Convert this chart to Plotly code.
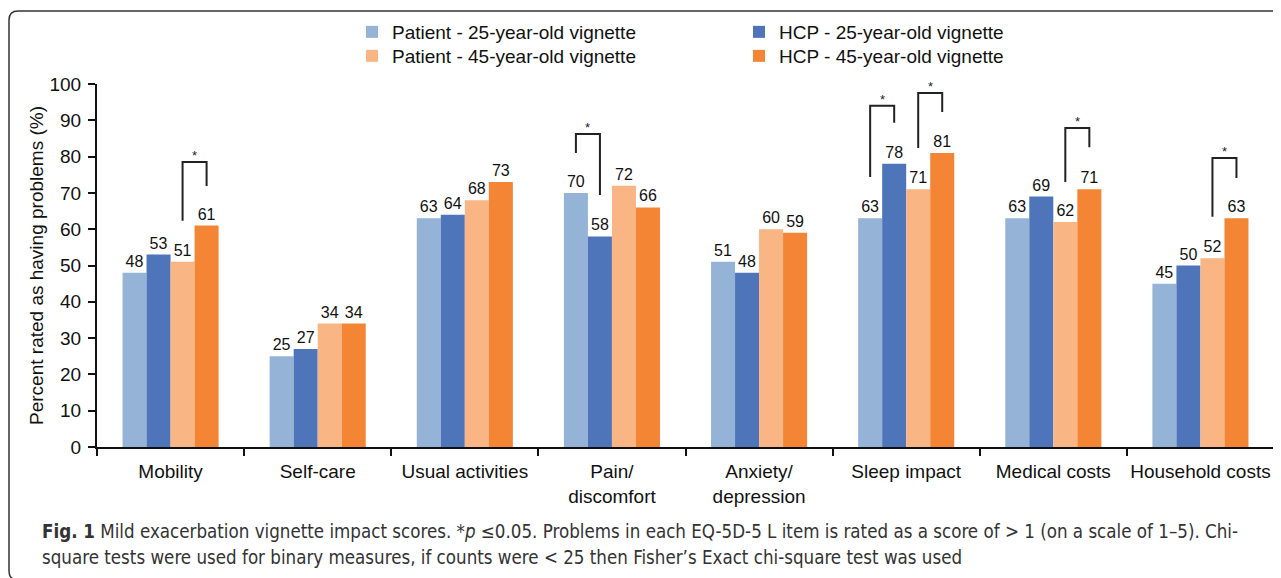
import plotly.graph_objects as go

categories = ["Mobility", "Self-care", "Usual activities", "Pain/<br>discomfort",
              "Anxiety/<br>depression", "Sleep impact", "Medical costs", "Household costs"]
series_names = ["Patient - 25-year-old vignette", "HCP - 25-year-old vignette",
                "Patient - 45-year-old vignette", "HCP - 45-year-old vignette"]
patient_25 = [48, 25, 63, 70, 51, 63, 63, 45]
hcp_25 = [53, 27, 64, 58, 48, 78, 69, 50]
patient_45 = [51, 34, 68, 72, 60, 71, 62, 52]
hcp_45 = [61, 34, 73, 66, 59, 81, 71, 63]
colors = ["#95B3D7", "#4E74BA", "#FAB584", "#F38535"]

# significance brackets: (category index, bar a, bar b, left-leg end, right-leg end, top)
brackets = [
    (0, 2, 3, 62.3, 71.9, 78.5),
    (3, 0, 1, 81.0, 69.4, 86.2),
    (5, 0, 1, 74.4, 89.3, 94.0),
    (5, 2, 3, 82.4, 92.3, 97.5),
    (6, 2, 3, 73.0, 82.6, 87.9),
    (7, 2, 3, 63.4, 74.1, 79.6),
]

FONT = "Liberation Sans, Arial, sans-serif"
OFF = 8  # page body margin
W, H = 1281 - OFF, 578 - OFF
ML, MT = 97 - OFF, 84 - OFF
MR = W - (1274 - OFF)
MB = H - (447 - OFF)
PW, PH = W - ML - MR, H - MT - MB
BARGAP = 0.347

def px_x(p):  # viewport pixel -> paper
    return (p - OFF - ML) / PW

def px_y(p):
    return (H - MB - (p - OFF)) / PH

# legend entry placement (viewport px: left edge, top edge)
legend_ids = ["legend", "legend2", "legend3", "legend4"]
legend_pos = [(352, 13), (739, 13), (352, 37), (739, 37)]

fig = go.Figure()
all_vals = [patient_25, hcp_25, patient_45, hcp_45]
for name, vals, col, lg in zip(series_names, all_vals, colors, legend_ids):
    fig.add_trace(go.Bar(
        x=categories, y=vals, name=name, marker=dict(color=col, line=dict(width=0)),
        text=[str(v) for v in vals], textposition="outside", constraintext="none",
        textfont=dict(family=FONT, size=16, color="#111"), cliponaxis=False,
        legend=lg, showlegend=True,
    ))

bw = (1 - BARGAP) / 4
def bar_center(ci, bi):
    return ci - (1 - BARGAP) / 2 + bw * (bi + 0.5)

shapes = []
annotations = []
for ci, a, b, ya, yb, top in brackets:
    xa, xb = bar_center(ci, a), bar_center(ci, b)
    shapes.append(dict(type="path", xref="x", yref="y",
                       path=f"M {xa} {ya} L {xa} {top} L {xb} {top} L {xb} {yb}",
                       line=dict(color="#222", width=2)))
    annotations.append(dict(x=(xa + xb) / 2, y=top, xref="x", yref="y", text="*",
                            showarrow=False, yanchor="bottom", yshift=-3,
                            font=dict(family=FONT, size=13, color="#222")))

# outer rounded frame
r = 9
x0, y0, x1, y1 = 9, 11, 1300, 580
def P(x, y):
    return f"{px_x(x)},{px_y(y)}"
frame = (f"M {P(x1, y0)} L {P(x0 + r, y0)} Q {P(x0, y0)} {P(x0, y0 + r)} "
         f"L {P(x0, y1 - r)} Q {P(x0, y1)} {P(x0 + r, y1)} L {P(x1, y1)}")
shapes.append(dict(type="path", xref="paper", yref="paper", path=frame,
                   line=dict(color="#333", width=1.5)))

CAP = "Liberation Sans Narrow, DejaVu Sans Condensed, sans-serif"
annotations.append(dict(xref="paper", yref="paper", x=px_x(40), y=px_y(531),
    xanchor="left", yanchor="middle", showarrow=False, align="left",
    text="<b>Fig. 1</b> Mild exacerbation vignette impact scores. *<i>p</i> \u22640.05. Problems in each EQ-5D-5 L item is rated as a score of &gt; 1 (on a scale of 1\u20135). Chi-",
    font=dict(family=CAP, size=18.6, color="#333")))
annotations.append(dict(xref="paper", yref="paper", x=px_x(40), y=px_y(557),
    xanchor="left", yanchor="middle", showarrow=False, align="left",
    text="square tests were used for binary measures, if counts were &lt; 25 then Fisher\u2019s Exact chi-square test was used",
    font=dict(family=CAP, size=18.6, color="#333")))

layout_legends = {}
for lg, (lx, ly) in zip(legend_ids, legend_pos):
    layout_legends[lg] = dict(x=px_x(lx), y=px_y(ly), xanchor="left", yanchor="top",
                              orientation="v", font=dict(family=FONT, size=19, color="#111"),
                              bgcolor="rgba(0,0,0,0)", itemclick=False, visible=True)

fig.update_layout(
    width=W, height=H, margin=dict(l=ML, r=MR, t=MT, b=MB, autoexpand=False),
    paper_bgcolor="white", plot_bgcolor="white", showlegend=True,
    barmode="group", bargap=BARGAP, bargroupgap=0,
    font=dict(family=FONT, size=19, color="#111"),
    shapes=shapes, annotations=annotations,
    xaxis=dict(showline=True, linecolor="#111", linewidth=2, ticks="outside",
               tickson="boundaries", ticklen=7, tickwidth=2, tickcolor="#111",
               showgrid=False, ticklabelstandoff=6, tickangle=0, automargin=False,
               tickfont=dict(family=FONT, size=19, color="#111")),
    yaxis=dict(range=[0, 100], dtick=10, showline=True, linecolor="#111", linewidth=2,
               ticks="outside", ticklen=7, tickwidth=2, tickcolor="#111", showgrid=False,
               zeroline=False, ticklabelstandoff=3, automargin=False,
               tickfont=dict(family=FONT, size=19, color="#111"),
               title=dict(text="Percent rated as having problems (%)",
                          font=dict(family=FONT, size=19, color="#111"), standoff=1)),
    **layout_legends,
)

fig.write_html("out.html")
